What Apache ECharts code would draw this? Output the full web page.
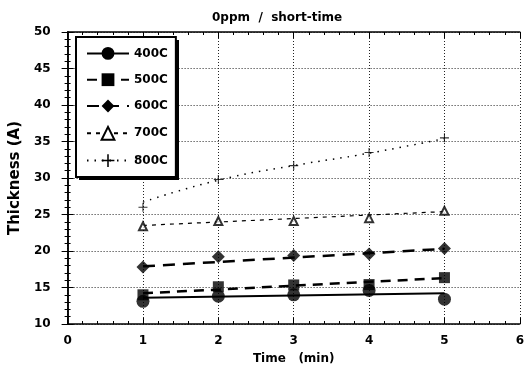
<!DOCTYPE html>
<html>
<head>
<meta charset="utf-8">
<script src="https://cdn.jsdelivr.net/npm/echarts@6/dist/echarts.min.js"></script>
<style>
  html, body { margin: 0; padding: 0; background: #fff; }
  #chart { width: 527px; height: 370px; }
</style>
</head>
<body>
<div id="chart"></div>
<script>
// measured points (time in min, thickness in A)
var times = [1, 2, 3, 4, 5];
var names = ['400C', '500C', '600C', '700C', '800C'];

var pts400 = [13.1, 13.8, 14.0, 14.6, 13.4];
var pts500 = [14.0, 15.1, 15.35, 15.4, 16.35];
var pts600 = [17.8, 19.2, 19.4, 19.6, 20.35];
var pts700 = [23.4, 24.1, 24.1, 24.5, 25.5];
var pts800 = [26.0, 29.8, 31.7, 33.5, 35.5];

// fitted curves
var fit400 = [[1, 13.6], [5, 14.2]];
var fit500 = [[1, 14.2], [5, 16.3]];
var fit600 = [[1, 17.9], [5, 20.3]];
var fit700 = [[1, 23.5], [5, 25.4]];
var fit800 = [[1, 26.7], [2, 29.7], [3, 31.7], [4, 33.4], [5, 35.4]];

var xTicks = [0, 1, 2, 3, 4, 5, 6];
var yTicks = [10, 15, 20, 25, 30, 35, 40, 45, 50];

var cross = 'path://M4.4,0 L5.6,0 L5.6,4.4 L10,4.4 L10,5.6 L5.6,5.6 L5.6,10 L4.4,10 L4.4,5.6 L0,5.6 L0,4.4 L4.4,4.4 Z';

var pts = [pts400, pts500, pts600, pts700, pts800];
var fits = [fit400, fit500, fit600, fit700, fit800];
var symbols = ['circle', 'rect', 'diamond', 'emptyTriangle', cross];
var sizes = [13, 11, 13, 8, 9];
var lineTypes = ['solid', [10, 7], [12, 8], [4, 5], [1.5, 6]];
var lineWidths = [2, 2.5, 2.5, 1.2, 1.5];

function pairs(arr) {
    var out = [];
    for (var i = 0; i < arr.length; i++) {
        out.push([times[i], arr[i]]);
    }
    return out;
}

var series = [];
for (var i = 0; i < names.length; i++) {
    series.push({
        name: names[i],
        type: 'line',
        data: fits[i],
        smooth: i == 4,
        showSymbol: false,
        symbol: symbols[i],
        symbolSize: sizes[i],
        itemStyle: { color: '#000' },
        lineStyle: { color: '#000', width: lineWidths[i], type: lineTypes[i] },
        animation: false,
        z: 3
    });
    series.push({
        name: names[i] + ' pts',
        type: 'scatter',
        data: pairs(pts[i]),
        symbol: symbols[i],
        symbolSize: sizes[i],
        itemStyle: { color: '#000', borderColor: '#000', borderWidth: i == 3 ? 1.2 : 0 },
        animation: false,
        z: 4
    });
}

var font = 'DejaVu Sans';
var labelFont = { fontFamily: font, fontWeight: 'bold', fontSize: 12, color: '#000' };

var chart = echarts.init(document.getElementById('chart'));
chart.setOption({
    backgroundColor: '#fff',
    title: {
        text: '0ppm  /  short-time',
        left: 207,
        top: 7,
        textStyle: { fontFamily: font, fontWeight: 'bold', fontSize: 12, color: '#000' }
    },
    grid: { left: 67, right: 3, top: 32, bottom: 45 },
    // hard drop shadow of the legend box
    graphic: [{
        type: 'rect',
        z: 3,
        shape: { x: 79, y: 40, width: 100, height: 140 },
        style: { fill: '#000' }
    }],
    legend: {
        data: names,
        orient: 'vertical',
        left: 76,
        top: 37,
        padding: [10, 8, 10, 10],
        itemWidth: 42,
        itemHeight: 16,
        itemGap: 13.5,
        z: 5,
        backgroundColor: '#fff',
        borderColor: '#000',
        borderWidth: 2,
        borderRadius: 0,
        textStyle: { fontFamily: font, fontWeight: 'bold', fontSize: 12, color: '#000' }
    },
    xAxis: [{
        type: 'value',
        min: xTicks[0],
        max: xTicks[xTicks.length - 1],
        interval: 1,
        name: 'Time   (min)',
        nameLocation: 'middle',
        nameGap: 29,
        nameTextStyle: { fontFamily: font, fontWeight: 'bold', fontSize: 12, color: '#000' },
        axisLine: { lineStyle: { color: '#000', width: 1.5 } },
        axisTick: { inside: true, length: 6, lineStyle: { color: '#000' } },
        minorTick: { show: true, splitNumber: 5, length: 3, lineStyle: { color: '#000' } },
        axisLabel: Object.assign({ margin: 11 }, labelFont),
        splitLine: { show: true, lineStyle: { color: '#222', type: [1, 2], width: 1 } }
    }, {
        type: 'value',
        position: 'top',
        min: xTicks[0],
        max: xTicks[xTicks.length - 1],
        interval: 1,
        axisLine: { show: true, lineStyle: { color: '#000', width: 1.5 } },
        axisTick: { show: true, inside: true, length: 6, lineStyle: { color: '#000' } },
        minorTick: { show: true, splitNumber: 5, length: 3, lineStyle: { color: '#000' } },
        axisLabel: { show: false },
        splitLine: { show: false }
    }],
    yAxis: [{
        type: 'value',
        min: yTicks[0],
        max: yTicks[yTicks.length - 1],
        interval: 5,
        name: 'Thickness (A)',
        nameLocation: 'middle',
        nameGap: 42,
        nameTextStyle: { fontFamily: font, fontWeight: 'bold', fontSize: 15, color: '#000' },
        axisLine: { show: true, lineStyle: { color: '#000', width: 1.5 } },
        axisTick: { show: true, inside: true, length: 6, lineStyle: { color: '#000' } },
        minorTick: { show: true, splitNumber: 5, length: 3, lineStyle: { color: '#000' } },
        axisLabel: Object.assign({ margin: 17 }, labelFont),
        splitLine: { show: true, lineStyle: { color: '#222', type: [1, 2], width: 1 } }
    }, {
        type: 'value',
        position: 'right',
        min: yTicks[0],
        max: yTicks[yTicks.length - 1],
        interval: 5,
        axisLine: { show: true, lineStyle: { color: '#000', width: 1.5 } },
        axisTick: { show: true, inside: true, length: 6, lineStyle: { color: '#000' } },
        minorTick: { show: true, splitNumber: 5, length: 3, lineStyle: { color: '#000' } },
        axisLabel: { show: false },
        splitLine: { show: false }
    }],
    series: series
});
</script>
</body>
</html>
